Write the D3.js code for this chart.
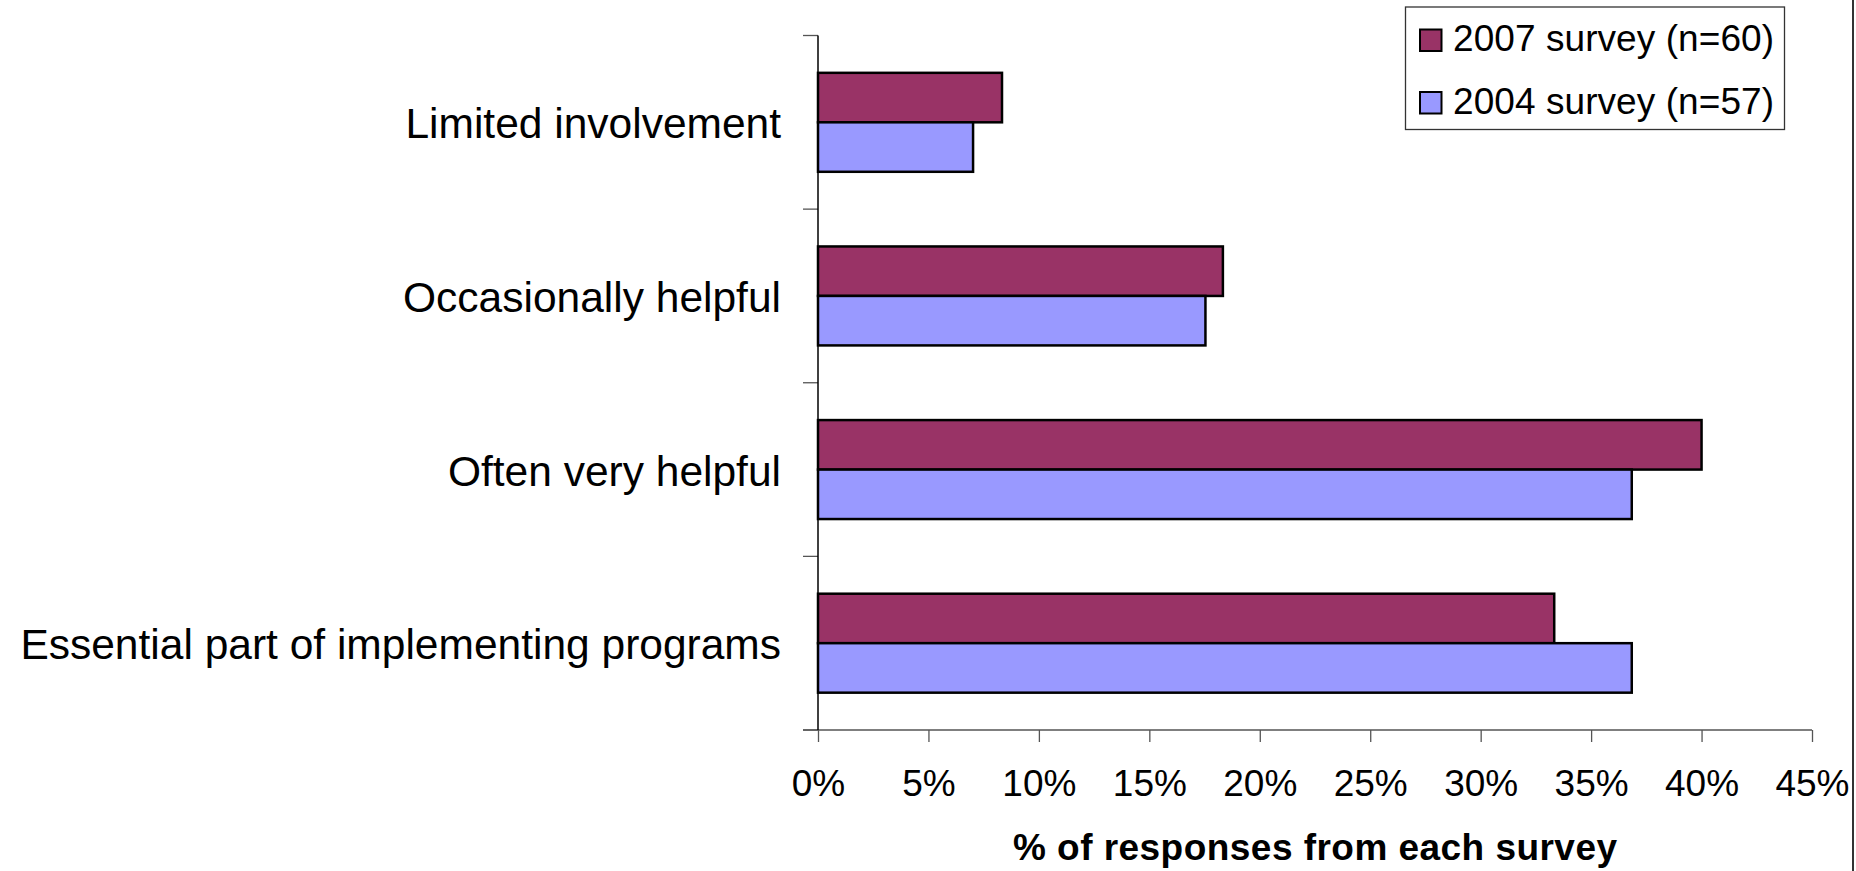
<!DOCTYPE html>
<html>
<head>
<meta charset="utf-8">
<script src="https://cdn.jsdelivr.net/npm/d3@7"></script>
<style>
  html, body { margin: 0; padding: 0; background: #fff; }
  svg { display: block; font-family: "Liberation Sans", Arial, sans-serif; }
</style>
</head>
<body>
<svg id="chart" width="1856" height="871"></svg>
<script>
const categories = ["Limited involvement", "Occasionally helpful", "Often very helpful", "Essential part of implementing programs"];
const seriesNames = ["2007 survey (n=60)", "2004 survey (n=57)"];
const values2007 = [8.33, 18.33, 40.0, 33.33];
const values2004 = [7.02, 17.54, 36.84, 36.84];
const xTicks = [0, 5, 10, 15, 20, 25, 30, 35, 40, 45];
const colors = ["#993366", "#9999FF"];
const xTitle = "% of responses from each survey";

(function () {
const svg = d3.select("#chart");
const mLeft = 818, mRight = 1812, mTop = 35.5, mBottom = 730;

const x = d3.scaleLinear().domain([0, 45]).range([mLeft, mRight]);
const y0 = d3.scaleBand().domain(categories).range([mTop, mBottom]).paddingInner(0.43).paddingOuter(0.215);
const y1 = d3.scaleBand().domain([0, 1]).range([0, y0.bandwidth()]);

// right border of chart area
svg.append("line").attr("x1", 1853).attr("x2", 1853).attr("y1", 0).attr("y2", 871)
  .attr("stroke", "#333").attr("stroke-width", 2);

// x axis
const xAxis = d3.axisBottom(x).tickValues(xTicks).tickFormat(d => d + "%")
  .tickSizeInner(12).tickSizeOuter(0).tickPadding(28);
const gx = svg.append("g").attr("transform", `translate(0,${mBottom})`).call(xAxis);
gx.select(".domain").remove();
gx.selectAll(".tick line").attr("stroke", "#555").attr("stroke-width", 1.3);
gx.selectAll(".tick text").attr("font-size", 37).attr("fill", "#000")
  .attr("font-family", "'Liberation Sans', Arial, sans-serif");
svg.append("line").attr("x1", mLeft - 15).attr("x2", mRight).attr("y1", mBottom).attr("y2", mBottom)
  .attr("stroke", "#555").attr("stroke-width", 1.3);

// y axis ticks at category boundaries
const step = y0.step();
const boundaries = categories.map(c => y0(c) - step * y0.paddingInner() / 2);
boundaries.push(mBottom);
svg.selectAll(".ytick").data(boundaries).join("line").attr("class", "ytick")
  .attr("x1", mLeft - 15).attr("x2", mLeft).attr("y1", d => d).attr("y2", d => d)
  .attr("stroke", "#555").attr("stroke-width", 1.3);
svg.append("line").attr("x1", mLeft).attr("x2", mLeft).attr("y1", mTop).attr("y2", mBottom)
  .attr("stroke", "#000").attr("stroke-width", 1.5);

// category labels
svg.selectAll(".ylab").data(categories).join("text").attr("class", "ylab")
  .attr("x", 781).attr("y", d => y0(d) + y0.bandwidth() / 2 + 16)
  .attr("text-anchor", "end").attr("font-size", 42.5).attr("fill", "#000")
  .text(d => d);

// bars
const series = [values2007, values2004];
series.forEach((vals, si) => {
  svg.selectAll(".bar" + si).data(categories).join("rect").attr("class", "bar" + si)
    .attr("x", x(0))
    .attr("y", (c) => y0(c) + y1(si))
    .attr("width", (c, i) => x(vals[i]) - x(0))
    .attr("height", y1.bandwidth())
    .attr("fill", colors[si]).attr("stroke", "#000").attr("stroke-width", 2.5);
});

// x axis title
svg.append("text").attr("x", (mLeft + mRight) / 2).attr("y", 860)
  .attr("text-anchor", "middle").attr("font-size", 37).attr("font-weight", "bold")
  .attr("textLength", 604).attr("lengthAdjust", "spacing")
  .text(xTitle);

// legend
const lg = svg.append("g");
lg.append("rect").attr("x", 1405.5).attr("y", 7).attr("width", 379).attr("height", 122.5)
  .attr("fill", "#fff").attr("stroke", "#333").attr("stroke-width", 1.3);
const rowsY = [29.5, 92];
seriesNames.forEach((name, i) => {
  lg.append("rect").attr("x", 1420).attr("y", rowsY[i]).attr("width", 21.5).attr("height", 21.5)
    .attr("fill", colors[i]).attr("stroke", "#000").attr("stroke-width", 2);
  lg.append("text").attr("x", 1453).attr("y", rowsY[i] + 21.5)
    .attr("font-size", 37).attr("textLength", 321).attr("lengthAdjust", "spacing")
    .attr("fill", "#000").text(name);
});
})();
</script>
</body>
</html>
